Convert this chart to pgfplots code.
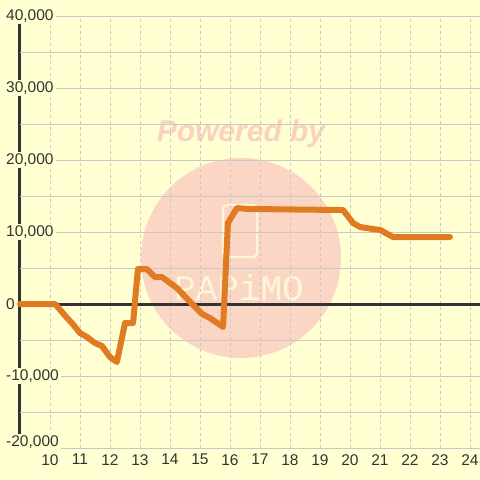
\documentclass[border=0pt]{standalone}
\usepackage{fontspec}
\setmainfont{Liberation Sans}
\newfontfamily\monofont{Liberation Mono}
\usepackage{pgfplots}
\pgfplotsset{compat=1.18}

\definecolor{bg}{HTML}{FFFFD2}
\definecolor{lineorange}{HTML}{E07B22}
\definecolor{gridgray}{HTML}{C8C8C8}
\definecolor{axisdark}{HTML}{333333}
\definecolor{wmpink}{HTML}{FBD6C4}
\definecolor{wmtext}{HTML}{FAD2C2}
\definecolor{wmlight}{HTML}{FFF6D6}

\begin{document}
\begin{tikzpicture}
\fill[bg] (-20pt,-32pt) rectangle (460pt,448pt);
% watermark (behind the axis)
\fill[wmpink] (221pt,190pt) circle[radius=100pt];
\node[text=wmtext, font=\fontsize{30}{32}\selectfont\bfseries\itshape]
    at (221pt,314pt) {Powered by};
\draw[wmlight, line width=2pt, rounded corners=4pt] (203pt,243pt) rectangle (237pt,191pt);
\node[text=wmlight, font=\fontsize{36}{38}\selectfont\monofont] at (219pt,160pt) {PAPiMO};
% left axis line, drawn first so the tick label boxes sit on it
\draw[axisdark, line width=3pt] (0pt,0pt) -- (0pt,432pt);
\begin{axis}[
    at={(0pt,0pt)}, anchor=south west,
    scale only axis,
    width=460pt, height=432pt,
    xmin=9, xmax=24.3333,
    ymin=-20000, ymax=40000,
    axis y line*=left,
    axis x line*=bottom,
    axis line style={draw=none},
    xtick={10,11,...,24},
    ytick={-10000,0,...,40000},
    minor ytick={-15000,-5000,...,35000},
    extra y ticks={-20000},
    extra y tick style={yticklabel style={yshift=6pt}},
    scaled y ticks=false,
    major tick length=0pt, minor tick length=0pt,
    xmajorgrids, ymajorgrids, yminorgrids,
    x grid style={gridgray, dashed, line width=0.8pt},
    y grid style={gridgray, line width=1pt},
    minor y grid style={gridgray, line width=1pt},
    tick label style={font=\fontsize{15.5}{17}\selectfont, text=axisdark},
    /pgf/number format/assume math mode=true,
    /pgf/number format/1000 sep={,},
    yticklabel style={anchor=west, xshift=-16pt, fill=bg, inner sep=2pt},
    xticklabel style={inner sep=2pt, yshift=-4pt},
    clip=false,
]
% zero line
\addplot[axisdark, line width=3pt] coordinates {(9,0) (24.3333,0)};
\addplot[lineorange, line width=6pt, line join=round, line cap=round] coordinates {
    (9.0,0) (10.17,0) (10.57,-1940) (10.73,-2640) (11.0,-4030) (11.23,-4580)
    (11.5,-5420) (11.73,-5830) (12.0,-7360) (12.23,-8060) (12.5,-2640) (12.77,-2640)
    (12.93,4860) (13.23,4860) (13.5,3750) (13.73,3750) (14.23,2220) (14.77,-140)
    (15.07,-1390) (15.33,-1940) (15.77,-3190) (15.93,11250) (16.23,13330) (16.57,13200)
    (19.77,13050) (20.1,11250) (20.33,10700) (20.77,10400) (21.0,10300) (21.43,9300)
    (23.33,9300)
};
\end{axis}
\pgfresetboundingbox
\useasboundingbox (-20pt,-32pt) rectangle (460pt,448pt);
\end{tikzpicture}
\end{document}
